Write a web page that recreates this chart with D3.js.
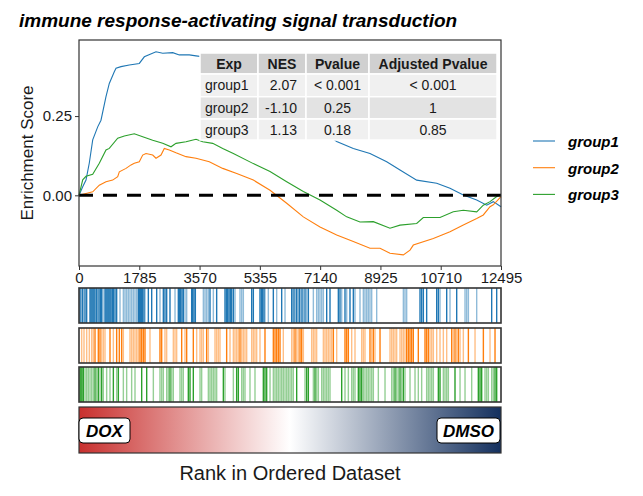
<!DOCTYPE html>
<html><head><meta charset="utf-8">
<script src="https://cdn.jsdelivr.net/npm/d3@7"></script>
<style>body{margin:0;background:#fff}text{font-family:"Liberation Sans",Arial,sans-serif}</style>
</head><body><svg id="c" width="643" height="496"></svg>
<script>
const groups = ["group1","group2","group3"];
const colors = ["#1f77b4","#ff7f0e","#2ca02c"];
const titleText = "immune response-activating signal transduction";
const xTicks = [0,1785,3570,5355,7140,8925,10710,12495];
const yTicks = [0,0.25];
const maxRank = 12495;

// running enrichment score [rank, ES]
const es1 = [[0,0],[110,0.027],[207,0.048],[305,0.102],[406,0.175],[554,0.216],[651,0.237],[799,0.311],[897,0.353],[1045,0.390],[1096,0.401],[1244,0.406],[1489,0.411],[1785,0.416],[1934,0.437],[2280,0.453],[2479,0.448],[2775,0.450],[2970,0.443],[3266,0.443],[3464,0.440],[4175,0.43],[5063,0.38],[5951,0.31],[6840,0.23],[7630,0.170],[8122,0.148],[8616,0.132],[9111,0.106],[9505,0.080],[9999,0.048],[10591,0.038],[10985,0.022],[11379,0.001],[11776,-0.015],[12072,-0.031],[12267,-0.020],[12495,-0.036]];
const es2 = [[0,0],[207,0.006],[406,0.011],[601,0.032],[799,0.043],[997,0.048],[1146,0.059],[1194,0.074],[1392,0.085],[1540,0.096],[1637,0.101],[1785,0.106],[1886,0.127],[1984,0.132],[2182,0.127],[2280,0.117],[2428,0.127],[2526,0.148],[2674,0.143],[2872,0.134],[3168,0.122],[3464,0.117],[3858,0.106],[4255,0.085],[4670,0.069],[5162,0.048],[5656,0.016],[6150,-0.025],[6642,-0.068],[7136,-0.100],[7630,-0.125],[8122,-0.146],[8616,-0.167],[8913,-0.167],[9208,-0.183],[9603,-0.188],[9801,-0.173],[9899,-0.157],[10491,-0.136],[10985,-0.115],[11379,-0.094],[11776,-0.073],[11971,-0.062],[12170,-0.036],[12267,-0.030],[12495,-0.004]];
const es3 = [[0,0],[110,0.049],[207,0.060],[406,0.066],[601,0.101],[799,0.143],[897,0.148],[1146,0.180],[1342,0.187],[1637,0.194],[1886,0.185],[2182,0.174],[2479,0.164],[2724,0.153],[2872,0.164],[3168,0.169],[3464,0.177],[3663,0.169],[3959,0.164],[4255,0.148],[4570,0.132],[5162,0.100],[5656,0.075],[6150,0.043],[6642,0.012],[7136,-0.015],[7630,-0.047],[7926,-0.068],[8320,-0.084],[8714,-0.083],[9208,-0.104],[9505,-0.094],[9999,-0.089],[10194,-0.070],[10689,-0.070],[11083,-0.052],[11379,-0.047],[11776,-0.052],[11971,-0.031],[12170,-0.020],[12368,-0.004],[12495,0.001]];

// gene hit ranks (dark = strong, light = weak)
const hitsDark1 = [30,99,178,227,326,355,385,415,444,474,523,592,632,671,770,799,829,859,888,918,948,987,1017,1066,1115,1757,1786,1816,1846,1885,1925,2053,2152,2300,2497,2546,2596,2694,2941,2971,3010,3050,3089,3336,3366,3405,3445,3879,4076,4323,4363,4402,4442,4481,4520,4570,5113,5162,5359,5399,5438,5478,5754,6001,6297,6366,6445,6524,6603,6692,6791,7334,7432,7679,7728,7876,8024,8123,10097,10146,10196,10294,10591,10640,10887,11183,12219,12367];
const hitsLight1 = [59,138,553,711,1214,1313,1362,1411,1461,1510,1559,1609,1658,1708,1954,2398,2843,3139,3188,3682,3731,3780,3830,3978,4619,4767,4817,4866,5507,5606,5853,6100,6327,6406,6485,6564,6643,6741,6939,7037,7087,7136,7186,7235,7778,7926,8172,8320,8419,8468,8518,8567,8616,8666,8814,9604,9653,9702,10689,10985,11430,11479,11529,11775];
const hitsDark2 = [474,572,622,918,1115,1194,1263,1806,1856,1905,1954,2398,2448,3040,3188,3385,3780,4372,4767,5507,5754,5804,5853,5902,5952,6396,6544,6593,7531,7876,7926,7975,8616,8715,8913,9702,9752,9801,9850,9899,10047,10245,10294,10344,11035,11133,11232,11529,11973,12318];
const hitsLight2 = [79,148,227,306,375,424,671,721,770,1017,1313,1510,1559,1609,1658,1708,1757,2102,2546,2596,2793,2843,2892,3139,3484,3583,3632,3682,3830,4027,4076,4126,4175,4471,4570,4619,4669,4718,4817,4866,4915,4965,5113,5162,5211,5261,5359,6050,6297,6346,6445,6495,6643,6889,6939,6988,7037,7235,7284,7333,7383,7432,7481,7630,8074,8172,8370,8419,8468,8666,8764,9209,9258,9307,9357,9406,9505,9554,9604,9653,10393,10443,10492,10591,10689,10788,10887,11084,11183,11282,11380,11726,12170];
const hitsDark3 = [30,59,89,128,474,572,671,1017,1165,1856,2004,2694,3237,3287,3385,4274,4668,4718,5458,5507,5557,6445,6741,6791,6988,7778,8271,8320,8370,9357,9505,9604,10640,10689,11133,11824,11874,11923,12318,12367];
const hitsLight3 = [178,227,276,326,375,424,523,622,720,819,918,1115,1313,1411,1559,1658,2201,2398,2448,2497,2596,2645,2744,2793,2991,3040,3089,3583,3632,3830,3879,3928,3978,4027,4076,4323,4570,4817,4866,4915,5063,5211,5656,5754,5804,5853,5902,5952,6001,6050,6100,6149,6198,6248,6297,6346,6692,6939,7037,7087,7186,7235,7284,7333,7383,7432,7876,7975,8074,8123,8172,8419,8468,8518,8567,8616,8666,8715,8863,9061,9258,9307,9406,9456,9554,9653,9801,9949,10047,10146,10294,10344,10393,10443,10492,10788,10837,10887,10936,11282,11430,11627,12022,12071,12121,12219,12268];

const tableHeader = ["Exp","NES","Pvalue","Adjusted Pvalue"];
const tableRows = [["group1","2.07","< 0.001","< 0.001"],["group2","-1.10","0.25","1"],["group3","1.13","0.18","0.85"]];
const lowLabel = "DOX", highLabel = "DMSO";
const xLabel = "Rank in Ordered Dataset", yLabel = "Enrichment Score";

const esData = [es1, es2, es3];
const hitsDark = [hitsDark1, hitsDark2, hitsDark3];
const hitsLight = [hitsLight1, hitsLight2, hitsLight3];

const svg = d3.select("#c");
const L = 79, R = 501, T = 40, B = 266;
const x = d3.scaleLinear().domain([0, maxRank]).range([L, R]);
const y = d3.scaleLinear().domain([-0.223, 0.49]).range([B, T]);
const ink = "#1a1a1a", frame = "#333333";

// title
svg.append("text").attr("x", 19).attr("y", 27).attr("font-size", 19).attr("font-weight", "bold")
  .attr("font-style", "italic").attr("fill", "#000").text(titleText);

// curves
const line = d3.line().x(d => x(d[0])).y(d => y(d[1]));
esData.forEach((d, i) => {
  svg.append("path").datum(d).attr("d", line).attr("fill", "none")
    .attr("stroke", colors[i]).attr("stroke-width", 1.1);
});
// zero line
svg.append("line").attr("x1", L).attr("x2", R).attr("y1", y(0)).attr("y2", y(0))
  .attr("stroke", "#000").attr("stroke-width", 3).attr("stroke-dasharray", "14,10");

// table
const colX = [200, 258, 306, 369, 497];
const rowY = [53, 74, 96.7, 119, 140];
const cellFill = ["#d0d0d0", "#f0f0f0", "#e3e3e3", "#f0f0f0"];
const allRows = [tableHeader].concat(tableRows);
allRows.forEach((row, r) => {
  row.forEach((val, c) => {
    svg.append("rect").attr("x", colX[c]).attr("y", rowY[r])
      .attr("width", colX[c + 1] - colX[c]).attr("height", rowY[r + 1] - rowY[r])
      .attr("fill", cellFill[r]).attr("stroke", "#fff").attr("stroke-width", 1.5);
    let tx, anchor;
    if (r > 0 && c === 0) { tx = colX[c] + 5; anchor = "start"; }
    else if (r > 0 && c === 1) { tx = colX[c + 1] - 9; anchor = "end"; }
    else { tx = (colX[c] + colX[c + 1]) / 2; anchor = "middle"; }
    svg.append("text").attr("x", tx).attr("y", (rowY[r] + rowY[r + 1]) / 2 + 5)
      .attr("text-anchor", anchor).attr("font-size", 14)
      .attr("font-weight", r === 0 ? "bold" : "normal").attr("fill", ink).text(val);
  });
});

// main frame
svg.append("rect").attr("x", L).attr("y", T).attr("width", R - L).attr("height", B - T)
  .attr("fill", "none").attr("stroke", frame).attr("stroke-width", 1.2);

// axes
const yAxis = d3.axisLeft(y).tickValues(yTicks).tickFormat(d3.format(".2f")).tickSize(4).tickPadding(3);
const gy = svg.append("g").attr("transform", `translate(${L},0)`).call(yAxis);
gy.select(".domain").remove();
gy.selectAll("line").attr("stroke", frame);
gy.selectAll("text").attr("font-size", 15).attr("fill", ink).attr("font-family", "Liberation Sans, Arial, sans-serif");

const xAxis = d3.axisBottom(x).tickValues(xTicks).tickFormat(d3.format("d")).tickSize(4).tickPadding(2);
const gx = svg.append("g").attr("transform", `translate(0,${B})`).call(xAxis);
gx.select(".domain").remove();
gx.selectAll("line").attr("stroke", frame);
gx.selectAll("text").attr("font-size", 15).attr("fill", ink).attr("font-family", "Liberation Sans, Arial, sans-serif");

svg.append("text").attr("transform", `translate(32.5,153) rotate(-90)`).attr("text-anchor", "middle")
  .attr("font-size", 17).attr("fill", ink).text(yLabel);

// barcode panels
const panels = [[288, 323], [328, 363], [367, 402]];
panels.forEach((p, i) => {
  const g = svg.append("g");
  g.selectAll("line.l").data(hitsLight[i]).join("line")
    .attr("x1", d => x(d)).attr("x2", d => x(d)).attr("y1", p[0]).attr("y2", p[1])
    .attr("stroke", colors[i]).attr("stroke-opacity", 0.5).attr("stroke-width", 1.4);
  g.selectAll("line.d").data(hitsDark[i]).join("line")
    .attr("x1", d => x(d)).attr("x2", d => x(d)).attr("y1", p[0]).attr("y2", p[1])
    .attr("stroke", colors[i]).attr("stroke-width", 1.4);
  g.append("rect").attr("x", L).attr("y", p[0]).attr("width", R - L).attr("height", p[1] - p[0])
    .attr("fill", "none").attr("stroke", frame).attr("stroke-width", 1.6);
});

// gradient
const defs = svg.append("defs");
const grad = defs.append("linearGradient").attr("id", "rk").attr("x1", "0").attr("x2", "1").attr("y1", "0").attr("y2", "0");
[["0%", "#c8302e"], ["50%", "#ffffff"], ["100%", "#14305e"]].forEach(s =>
  grad.append("stop").attr("offset", s[0]).attr("stop-color", s[1]));
svg.append("rect").attr("x", L).attr("y", 407).attr("width", R - L).attr("height", 46)
  .attr("fill", "url(#rk)").attr("stroke", frame).attr("stroke-width", 1.2);

function tag(x0, w, label) {
  svg.append("rect").attr("x", x0).attr("y", 418).attr("width", w).attr("height", 25)
    .attr("rx", 4).attr("fill", "#fff").attr("stroke", "#000").attr("stroke-width", 1);
  svg.append("text").attr("x", x0 + w / 2).attr("y", 436.5).attr("text-anchor", "middle")
    .attr("font-size", 17).attr("font-weight", "bold").attr("font-style", "italic").attr("fill", "#000").text(label);
}
tag(79, 51, lowLabel);
tag(437, 63, highLabel);

svg.append("text").attr("x", 290).attr("y", 480).attr("text-anchor", "middle")
  .attr("font-size", 20).attr("fill", ink).text(xLabel);

// legend
groups.forEach((gname, i) => {
  const ly = 141 + i * 26.7;
  svg.append("line").attr("x1", 533).attr("x2", 555).attr("y1", ly).attr("y2", ly)
    .attr("stroke", colors[i]).attr("stroke-width", 1.1);
  svg.append("text").attr("x", 568).attr("y", ly + 6).attr("font-size", 15).attr("font-weight", "bold")
    .attr("font-style", "italic").attr("fill", "#000").text(gname);
});
</script></body></html>
